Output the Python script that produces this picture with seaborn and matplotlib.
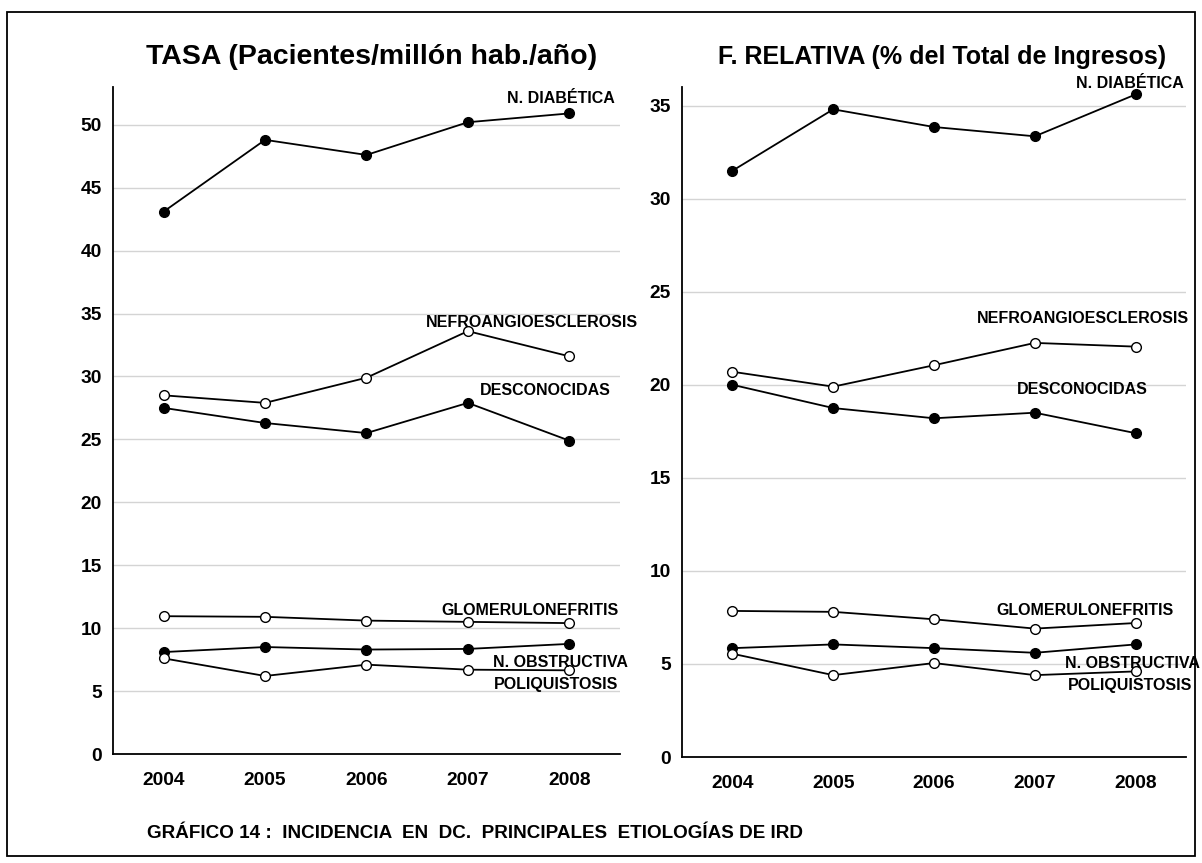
# incidencia en DC: principales etiologias de IRD (tasa y frecuencia relativa)

import matplotlib.pyplot as plt
from matplotlib.patches import Rectangle
from matplotlib.ticker import FixedLocator
import seaborn as sns
import pandas as pd

years = [2004, 2005, 2006, 2007, 2008]
year_labels = ["2004", "2005", "2006", "2007", "2008"]

etiologias = [
    "N. DIABÉTICA",
    "NEFROANGIOESCLEROSIS",
    "DESCONOCIDAS",
    "GLOMERULONEFRITIS",
    "N. OBSTRUCTIVA",
    "POLIQUISTOSIS",
]
filled = [True, False, True, False, True, False]

# tasa (pacientes / millon hab. / año)
tasa_diabetica = [43.1, 48.8, 47.6, 50.2, 50.9]
tasa_nefroangio = [28.5, 27.9, 29.9, 33.6, 31.6]
tasa_desconocidas = [27.5, 26.3, 25.5, 27.9, 24.9]
tasa_glomerulo = [10.95, 10.9, 10.6, 10.5, 10.4]
tasa_obstructiva = [8.1, 8.5, 8.3, 8.35, 8.75]
tasa_poliquistosis = [7.6, 6.2, 7.1, 6.7, 6.65]

# frecuencia relativa (% del total de ingresos)
frel_diabetica = [31.5, 34.8, 33.85, 33.35, 35.6]
frel_nefroangio = [20.7, 19.9, 21.05, 22.25, 22.05]
frel_desconocidas = [20.0, 18.75, 18.2, 18.5, 17.4]
frel_glomerulo = [7.85, 7.8, 7.4, 6.9, 7.2]
frel_obstructiva = [5.85, 6.05, 5.85, 5.6, 6.05]
frel_poliquistosis = [5.55, 4.4, 5.05, 4.4, 4.6]

tasa = [tasa_diabetica, tasa_nefroangio, tasa_desconocidas,
        tasa_glomerulo, tasa_obstructiva, tasa_poliquistosis]
frel = [frel_diabetica, frel_nefroangio, frel_desconocidas,
        frel_glomerulo, frel_obstructiva, frel_poliquistosis]

# label positions (x in year units, y in data units, alignment)
tasa_labels = [
    (2008.45, 52.1, "right"),
    (2007.63, 34.3, "center"),
    (2007.76, 28.9, "center"),
    (2007.61, 11.4, "center"),
    (2007.91, 7.3, "center"),
    (2007.87, 5.5, "center"),
]
frel_labels = [
    (2008.48, 36.2, "right"),
    (2007.48, 23.55, "center"),
    (2007.47, 19.75, "center"),
    (2007.50, 7.85, "center"),
    (2007.97, 5.05, "center"),
    (2007.94, 3.85, "center"),
]


def to_long(series):
    rows = []
    for name, vals in zip(etiologias, series):
        for y, v in zip(years, vals):
            rows.append({"year": y, "value": v, "etiologia": name})
    return pd.DataFrame(rows)


def draw_panel(ax, series, labels, ymax):
    df = to_long(series)
    for name, fill in zip(etiologias, filled):
        sub = df[df["etiologia"] == name]
        sns.lineplot(
            data=sub, x="year", y="value", ax=ax,
            color="black", linewidth=1.3, marker="o", markersize=7,
            markerfacecolor="black" if fill else "white",
            markeredgecolor="black", markeredgewidth=1.0,
        )
    for name, (lx, ly, ha) in zip(etiologias, labels):
        ax.text(lx, ly, name, ha=ha, va="center", fontsize=11.5,
                fontweight="bold", color="black", clip_on=False)

    ax.set_xlim(2003.5, 2008.5)
    ax.set_ylim(0, ymax)
    ax.xaxis.set_major_locator(FixedLocator([2003.5, 2004.5, 2005.5, 2006.5, 2007.5, 2008.5]))
    ax.xaxis.set_major_formatter(plt.NullFormatter())
    ax.xaxis.set_minor_locator(FixedLocator(years))
    ax.set_xticklabels(year_labels, minor=True)
    ax.tick_params(axis="x", which="major", direction="out", length=5, width=1.2, color="black")
    ax.tick_params(axis="x", which="minor", length=0, pad=13, labelsize=13.8, labelcolor="black")
    ax.set_yticks(range(0, int(ymax) + 1, 5))
    ax.tick_params(axis="y", direction="out", length=5, width=1.2, color="black",
                   labelsize=13.8, labelcolor="black", pad=3)
    for lab in ax.get_xticklabels(minor=True) + ax.get_yticklabels():
        lab.set_fontweight("bold")

    ax.grid(axis="y", color="#d4d4d4", linewidth=1.0)
    ax.grid(axis="x", visible=False)
    for g in ax.get_ygridlines()[:1]:
        g.set_visible(False)
    ax.set_axisbelow(True)
    for side in ["top", "right"]:
        ax.spines[side].set_visible(False)
    for side in ["left", "bottom"]:
        ax.spines[side].set_color("black")
        ax.spines[side].set_linewidth(1.3)
    ax.set_xlabel("")
    ax.set_ylabel("")


def main():
    sns.set_theme(style="white")
    plt.rcParams["font.family"] = ["Liberation Sans", "DejaVu Sans"]
    plt.rcParams["text.color"] = "black"

    fig = plt.figure(figsize=(12.02, 8.63), dpi=100)
    ax1 = fig.add_axes([0.0940, 0.1263, 0.4218, 0.7729])
    ax2 = fig.add_axes([0.5674, 0.1228, 0.4193, 0.7764])

    draw_panel(ax1, tasa, tasa_labels, 53.0)
    draw_panel(ax2, frel, frel_labels, 36.0)

    fig.text(372 / 1202, 1 - 57 / 863, "TASA (Pacientes/millón hab./año)",
             ha="center", va="center", fontsize=20.5, fontweight="bold")
    fig.text(942 / 1202, 1 - 57 / 863, "F. RELATIVA (% del Total de Ingresos)",
             ha="center", va="center", fontsize=18, fontweight="bold")
    fig.text(147 / 1202, 1 - 833 / 863,
             "GRÁFICO 14 :  INCIDENCIA  EN  DC.  PRINCIPALES  ETIOLOGÍAS DE IRD",
             ha="left", va="center", fontsize=13.6, fontweight="bold")

    fig.patches.append(Rectangle((7 / 1202, 1 - 856 / 863), 1188 / 1202, 844 / 863,
                                 transform=fig.transFigure, fill=False,
                                 edgecolor="black", linewidth=1.3))

    fig.savefig("out.png", dpi=100)
    plt.close(fig)


if __name__ == "__main__":
    main()
